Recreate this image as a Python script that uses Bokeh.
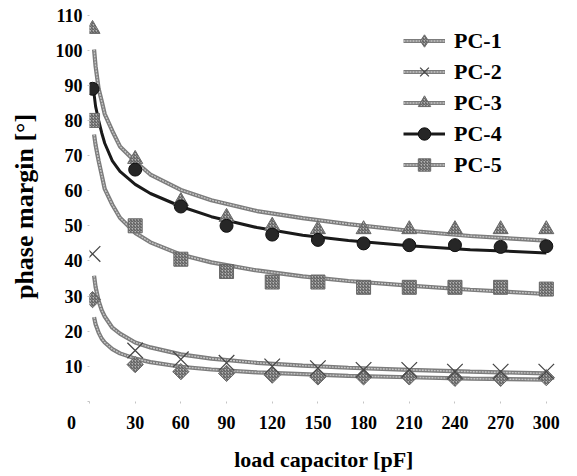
from bokeh.plotting import figure
from bokeh.models import Range1d, FixedTicker, Legend, LegendItem
from bokeh.embed import file_html
from bokeh.resources import INLINE

# measured points
cap = [2, 30, 60, 90, 120, 150, 180, 210, 240, 270, 300]
pc1 = [29, 10.5, 8.5, 8, 7.5, 7, 7, 7, 6.6, 6.6, 6.8]
pc2 = [42, 14.5, 12, 11, 10, 9.5, 9, 9, 8.5, 8.5, 8.5]
pc3 = [106, 69, 57, 52.5, 50, 49, 49, 49, 49, 49, 49]
pc4 = [89, 66, 55.5, 50, 47.5, 46, 45, 44.5, 44.5, 44, 44.2]
pc5 = [80, 50, 40.5, 37, 34, 34, 32.5, 32.5, 32.5, 32.5, 32]

# trend curves
trend_x = [3, 4, 6, 8, 10, 15, 20, 30, 40, 60, 80, 110, 140, 170, 210, 250, 300]
t1 = [24.0, 22.0, 19.6, 17.9, 16.8, 14.9, 13.7, 12.2, 11.2, 9.9, 9.1, 8.3, 7.8, 7.3, 6.9, 6.5, 6.2]
t2 = [35.8, 32.6, 28.6, 26.0, 24.2, 21.0, 19.3, 16.8, 15.4, 13.4, 12.2, 11.0, 10.2, 9.6, 9.0, 8.5, 8.0]
t3 = [100.2, 95.4, 89.0, 85.5, 81.8, 77.0, 72.6, 68.3, 64.6, 60.2, 57.3, 54.2, 52.2, 50.5, 48.6, 47.1, 45.8]
t4 = [87.5, 84.0, 80.0, 76.5, 73.5, 68.5, 65.5, 61.8, 59.2, 55.5, 52.6, 49.5, 47.3, 45.8, 44.3, 43.2, 42.3]
t5 = [76.0, 73.0, 68.5, 64.5, 60.5, 56.0, 52.3, 48.0, 45.3, 41.8, 39.6, 37.3, 35.6, 34.3, 33.0, 31.8, 30.6]

x_ticks = [0, 30, 60, 90, 120, 150, 180, 210, 240, 270, 300]
y_ticks = [0, 10, 20, 30, 40, 50, 60, 70, 80, 90, 100, 110]
names = ["PC-1", "PC-2", "PC-3", "PC-4", "PC-5"]
x_title = "load capacitor [pF]"
y_title = "phase margin [°]"
origin_label = "0"

FONT = "Liberation Serif"

p = figure(width=570, height=474, x_range=Range1d(0, 308), y_range=Range1d(0, 111),
           output_backend="svg", toolbar_location=None,
           min_border_left=89, min_border_right=12, min_border_top=11, min_border_bottom=69)
p.outline_line_color = None
p.grid.visible = False

for ax in (p.xaxis[0], p.yaxis[0]):
    ax.axis_line_color = None
    ax.major_tick_line_color = "#c4c4c4"
    ax.major_tick_in = 0
    ax.major_tick_out = 2
    ax.minor_tick_line_color = None
    ax.major_label_text_font = FONT
    ax.major_label_text_font_style = "bold"
    ax.major_label_text_font_size = "18px"
    ax.major_label_text_color = "black"
    ax.axis_label_text_font = FONT
    ax.axis_label_text_font_style = "bold"
    ax.axis_label_text_color = "black"

p.xaxis.ticker = FixedTicker(ticks=x_ticks)
p.yaxis.ticker = FixedTicker(ticks=y_ticks)
# origin "0" sits left of the y axis, under the x-axis row
p.xaxis.major_label_overrides = {0: origin_label + "\u00a0" * 8}
p.yaxis.major_label_overrides = {0: ""}
p.xaxis.axis_label = x_title
p.yaxis.axis_label = y_title
p.xaxis.axis_label_text_font_size = "22px"
p.yaxis.axis_label_text_font_size = "26px"
p.xaxis.major_label_standoff = 9
p.yaxis.major_label_standoff = 5
p.xaxis.axis_label_standoff = 11
p.yaxis.axis_label_standoff = 14

GREY_OUT = "#7c7c7c"
GREY_IN = "#c6c6c6"

def grey_line(ys):
    r1 = p.line(trend_x, ys, line_color=GREY_OUT, line_width=4.2)
    r2 = p.line(trend_x, ys, line_color=GREY_IN, line_width=1.4, line_dash="2 1")
    return [r1, r2]

hatch = dict(fill_color="#b4b4b4", line_color="#686868", line_width=1,
             hatch_pattern="right_diagonal_line", hatch_color="#4e4e4e",
             hatch_scale=3, hatch_weight=1)

l1 = grey_line(t1)
l2 = grey_line(t2)
l3 = grey_line(t3)
l4 = [p.line(trend_x, t4, line_color="#1a1a1a", line_width=3)]
l5 = grey_line(t5)

# diamond key for the legend (legend markers are drawn unrotated); it sits
# underneath the rotated squares below, so only the legend shows it
m1_key = p.scatter(cap, pc1, marker="diamond", size=13, **hatch)
m1 = p.scatter(cap, pc1, marker="square", angle=0.785, size=11.5, **hatch)
m2 = p.scatter(cap, pc2, marker="x", size=22, line_color="#484848", line_width=1.3)
m3 = p.scatter(cap, pc3, marker="triangle", size=15, **hatch)
m4 = p.scatter(cap, pc4, marker="circle", size=13, fill_color="#262626",
               line_color="#111111", line_width=1)
m5 = p.scatter(cap, pc5, marker="square", size=14, **hatch)

legend_marks = [m1_key, m2, m3, m4, m5]
items = []
for name, ls, m in zip(names, [l1, l2, l3, l4, l5], legend_marks):
    items.append(LegendItem(label=name, renderers=ls + [m]))

legend = Legend(items=items, location=(314, 221), orientation="vertical",
                glyph_width=42, glyph_height=31, spacing=0, padding=0, margin=0,
                label_standoff=9, label_text_font=FONT, label_text_font_style="bold",
                label_text_font_size="22px", label_text_color="black",
                border_line_color=None, background_fill_alpha=0)
p.add_layout(legend)

open("out.html", "w").write(file_html(p, INLINE))
